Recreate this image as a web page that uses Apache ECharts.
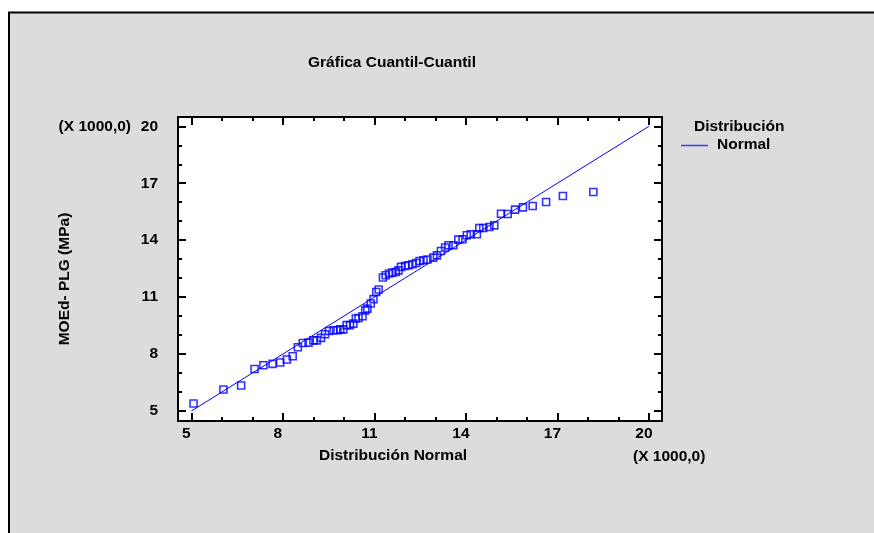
<!DOCTYPE html>
<html>
<head>
<meta charset="utf-8">
<script src="https://cdn.jsdelivr.net/npm/echarts@6/dist/echarts.min.js"></script>
<style>
html,body{margin:0;padding:0;background:#fff;}
#c{width:874px;height:533px;}
</style>
</head>
<body>
<div id="c"></div>
<script>
// Theoretical normal quantiles (X 1000)
const normalQuantiles = [5.07,6.05,6.63,7.07,7.36,7.66,7.91,8.13,8.32,8.49,8.65,8.84,9.00,9.11,9.25,9.38,9.51,9.66,9.79,9.88,9.98,10.09,10.20,10.31,10.39,10.48,10.61,10.70,10.77,10.88,10.97,11.06,11.14,11.28,11.37,11.48,11.59,11.70,11.79,11.87,12.01,12.12,12.25,12.37,12.48,12.61,12.74,12.93,13.05,13.18,13.32,13.43,13.59,13.75,13.89,14.03,14.16,14.36,14.44,14.57,14.77,14.93,15.15,15.37,15.61,15.87,16.19,16.63,17.18,18.18];
// Observed MOEd- PLG (MPa) (X 1000)
const moedValues = [5.39,6.13,6.34,7.21,7.41,7.48,7.55,7.71,7.88,8.36,8.58,8.60,8.72,8.72,8.85,9.04,9.21,9.25,9.25,9.30,9.30,9.52,9.52,9.60,9.87,9.90,9.99,10.30,10.39,10.66,10.89,11.27,11.40,12.03,12.15,12.24,12.29,12.32,12.41,12.59,12.64,12.68,12.73,12.80,12.90,12.94,12.98,13.08,13.20,13.43,13.61,13.73,13.73,14.03,14.05,14.26,14.31,14.31,14.64,14.64,14.69,14.78,15.39,15.38,15.61,15.73,15.80,16.01,16.33,16.54];
// Reference line (normal distribution)
const refLineX = [5, 20];
const refLineY = [5, 20];
// Ticks
const majorTicks = [5, 8, 11, 14, 17, 20];
const minorTicks = [5,6,7,8,9,10,11,12,13,14,15,16,17,18,19,20];
const xRange = [4.56, 20.43];
const yRange = [4.47, 20.49];

const FONT = 'Liberation Sans, Arial, sans-serif';
const FS = 15.5;

const chart = echarts.init(document.getElementById('c'), null, {renderer:'canvas'});

function mkAxis(type, position, ticks, len, showLabel) {
  const r = type === 'x' ? xRange : yRange;
  const ax = {
    type: 'value', position: position, min: r[0], max: r[1],
    axisLine: {show: false},
    splitLine: {show: false},
    axisTick: {show: true, inside: true, length: len, customValues: ticks,
      lineStyle: {color: '#000', width: 2}},
    axisLabel: {show: false}
  };
  if (showLabel) {
    ax.axisLabel = {
      show: true, customValues: majorTicks, color: '#000',
      fontFamily: FONT, fontWeight: 'bold', fontSize: FS,
      formatter: v => String(Math.round(v))
    };
    if (type === 'x') { ax.axisLabel.margin = 5; ax.axisLabel.padding = [0, 10, 0, 0]; }
    else { ax.axisLabel.margin = 20; }
  }
  return ax;
}

const pts = normalQuantiles.map((x, i) => [x, moedValues[i]]);
const line = refLineX.map((x, i) => [x, refLineY[i]]);
const txt = (t, x, y, align) => ({type: 'text', style: {text: t, x: x, y: y, align: align,
  verticalAlign: 'middle', font: 'bold ' + FS + 'px ' + FONT, fill: '#000'}});

const option = {
  backgroundColor: '#fff',
  animation: false,
  grid: {left: 178, top: 117, width: 484, height: 304, show: true,
    backgroundColor: '#fff', borderColor: '#000', borderWidth: 2, containLabel: false},
  xAxis: [
    mkAxis('x', 'bottom', majorTicks, 8, true),
    mkAxis('x', 'bottom', minorTicks, 4, false),
    mkAxis('x', 'top', majorTicks, 8, false),
    mkAxis('x', 'top', minorTicks, 4, false)
  ],
  yAxis: [
    mkAxis('y', 'left', majorTicks, 8, true),
    mkAxis('y', 'left', minorTicks, 4, false),
    mkAxis('y', 'right', majorTicks, 8, false),
    mkAxis('y', 'right', minorTicks, 4, false)
  ],
  series: [
    {type: 'line', data: line, xAxisIndex: 0, yAxisIndex: 0, symbol: 'none',
      lineStyle: {color: '#0000ff', width: 1}, z: 2},
    {type: 'scatter', data: pts, xAxisIndex: 0, yAxisIndex: 0,
      symbol: 'path://M0,0H10V10H0Z', symbolSize: 7,
      itemStyle: {color: 'rgba(0,0,0,0)', borderColor: '#0000ff', borderWidth: 1.6}, z: 3}
  ],
  graphic: [
    {type: 'rect', z: -10, shape: {x: 9, y: 12.5, width: 900, height: 560},
      style: {fill: '#dcdcdc', stroke: '#000', lineWidth: 2}},
    txt('Gráfica Cuantil-Cuantil', 392, 63, 'center'),
    txt('(X 1000,0)', 131, 127, 'right'),
    {type: 'text', rotation: Math.PI / 2, x: 65, y: 279,
      style: {text: 'MOEd- PLG (MPa)', x: 0, y: 0, align: 'center', verticalAlign: 'middle',
      font: 'bold ' + FS + 'px ' + FONT, fill: '#000'}},
    txt('Distribución Normal', 393, 456, 'center'),
    txt('(X 1000,0)', 633, 457, 'left'),
    txt('Distribución', 694, 127, 'left'),
    txt('Normal', 717, 145, 'left'),
    {type: 'line', shape: {x1: 681, y1: 145.5, x2: 708, y2: 145.5},
      style: {stroke: '#3c3cff', lineWidth: 1.5}}
  ]
};
chart.setOption(option);
</script>
</body>
</html>
